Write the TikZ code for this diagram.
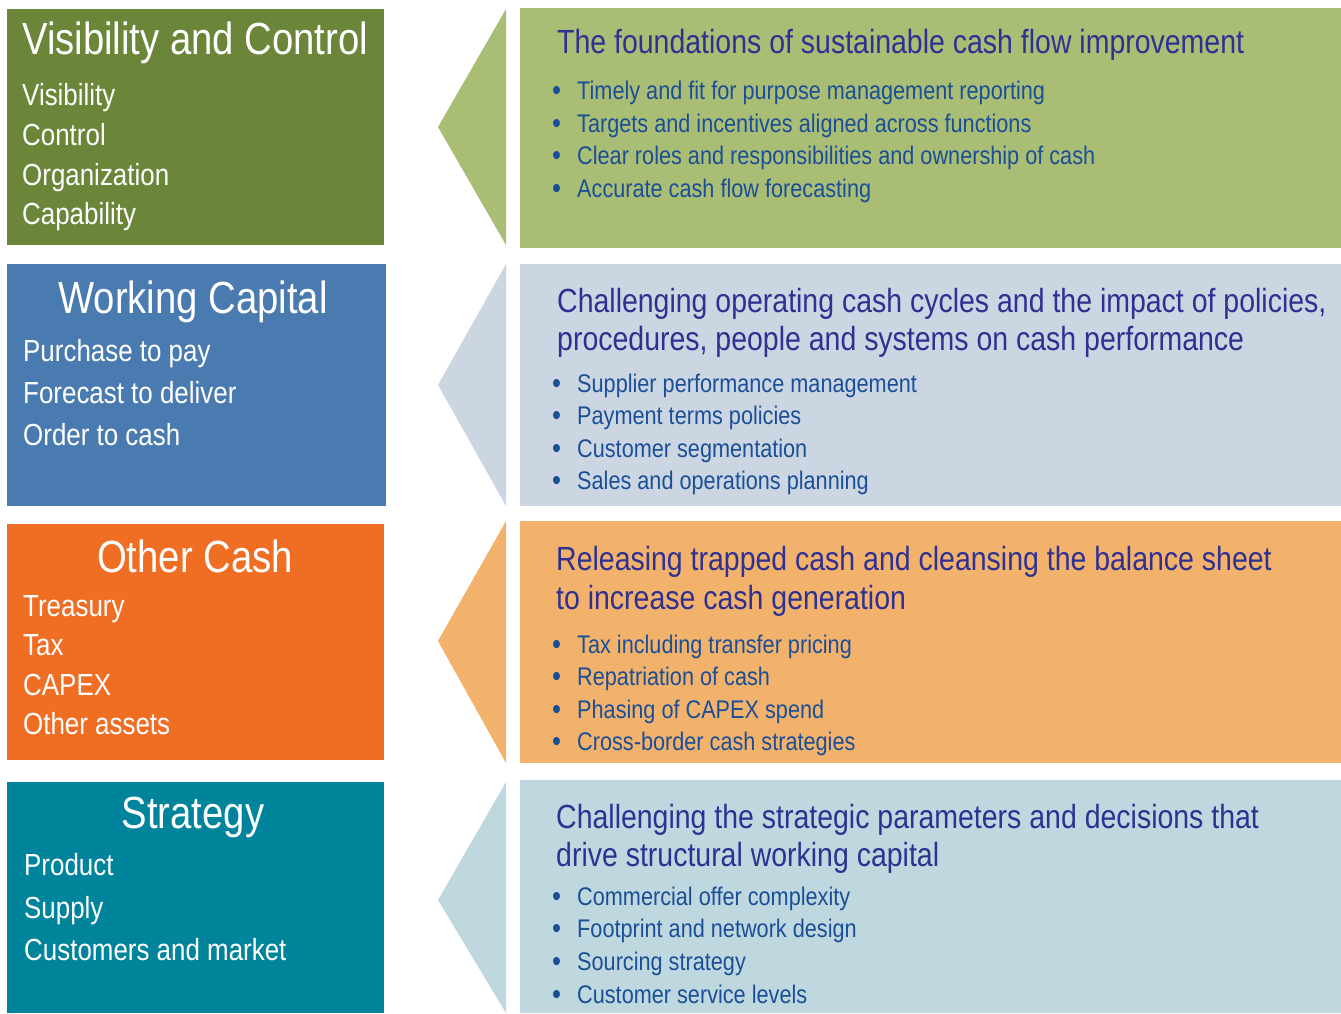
\documentclass[tikz,border=0pt]{standalone}
\usepackage{fontspec}
\setmainfont[FakeStretch=0.85]{Liberation Sans}
\usepackage{xcolor}
\usepackage{tikz}
\usetikzlibrary{positioning}
\definecolor{vcDark}{HTML}{6B8539}
\definecolor{vcLight}{HTML}{AABD75}
\definecolor{wcDark}{HTML}{4A7BB0}
\definecolor{wcLight}{HTML}{CCD6E2}
\definecolor{ocDark}{HTML}{EF6E24}
\definecolor{ocLight}{HTML}{F3B26B}
\definecolor{stDark}{HTML}{00849B}
\definecolor{stLight}{HTML}{BFD8DF}
\definecolor{headBlue}{HTML}{2E3192}
\definecolor{bulletBlue}{HTML}{1A4F97}
\newcommand{\bul}{\makebox[25pt][l]{\raisebox{-1pt}{\fontsize{30}{30}\selectfont\textbullet}}}

\begin{document}
\begin{tikzpicture}[
                x=1pt, y=-1pt,
                box/.style={
                    rectangle,
                    anchor=north west,
                    inner sep=0pt,
                    outer sep=0pt
                },
                lefttitle/.style={text=white, inner sep=0pt, font=\fontsize{45}{45}\selectfont},
                leftitem/.style={text=white, inner sep=0pt, anchor=base west, font=\fontsize{30.5}{30.5}\selectfont},
                righthead/.style={text=headBlue, inner sep=0pt, anchor=base west, font=\fontsize{33.5}{33.5}\selectfont},
                rightbullet/.style={text=bulletBlue, inner sep=0pt, anchor=base west, font=\fontsize{25.5}{25.5}\selectfont}
            ]
                \useasboundingbox (0,0) rectangle (1341,1013);

                % visibility and control
                \node[box, fill=vcDark, minimum width=377pt, minimum height=236pt] (vcLeft) at (7,9) {};
                \node[box, fill=vcLight, minimum width=821pt, minimum height=240pt] (vcRight) at (520,8) {};
                \fill[vcLight] (438,127) -- (506,9) -- (506,245) -- cycle;
                \node[lefttitle, anchor=base west] (vcTitle) at (22,54) {Visibility and Control};
                \node[leftitem] (vcA) at (22,105) {Visibility};
                \node[leftitem] (vcB) at (22,145) {Control};
                \node[leftitem] (vcC) at (22,185) {Organization};
                \node[leftitem] (vcD) at (22,224) {Capability};
                \node[righthead] (vcHead) at (557,53) {The foundations of sustainable cash flow improvement};
                \node[rightbullet] (vcP) at (552,99) {\bul Timely and fit for purpose management reporting};
                \node[rightbullet] (vcQ) at (552,132) {\bul Targets and incentives aligned across functions};
                \node[rightbullet] (vcR) at (552,164) {\bul Clear roles and responsibilities and ownership of cash};
                \node[rightbullet] (vcS) at (552,197) {\bul Accurate cash flow forecasting};

                % working capital
                \node[box, fill=wcDark, minimum width=379pt, minimum height=242pt] (wcLeft) at (7,264) {};
                \node[box, fill=wcLight, minimum width=821pt, minimum height=242pt] (wcRight) at (520,264) {};
                \fill[wcLight] (438,385) -- (506,264) -- (506,506) -- cycle;
                \node[lefttitle, anchor=base] (wcTitle) at (193,313) {Working Capital};
                \node[leftitem] (wcA) at (23,361) {Purchase to pay};
                \node[leftitem] (wcB) at (23,403) {Forecast to deliver};
                \node[leftitem] (wcC) at (23,445) {Order to cash};
                \node[righthead] (wcHeadA) at (557,312) {Challenging operating cash cycles and the impact of policies,};
                \node[righthead] (wcHeadB) at (557,350) {procedures, people and systems on cash performance};
                \node[rightbullet] (wcP) at (552,392) {\bul Supplier performance management};
                \node[rightbullet] (wcQ) at (552,424) {\bul Payment terms policies};
                \node[rightbullet] (wcR) at (552,457) {\bul Customer segmentation};
                \node[rightbullet] (wcS) at (552,489) {\bul Sales and operations planning};

                % other cash
                \node[box, fill=ocDark, minimum width=377pt, minimum height=236pt] (ocLeft) at (7,524) {};
                \node[box, fill=ocLight, minimum width=821pt, minimum height=242pt] (ocRight) at (520,521) {};
                \fill[ocLight] (438,641) -- (506,521) -- (506,763) -- cycle;
                \node[lefttitle, anchor=base] (ocTitle) at (195,572) {Other Cash};
                \node[leftitem] (ocA) at (23,616) {Treasury};
                \node[leftitem] (ocB) at (23,655) {Tax};
                \node[leftitem] (ocC) at (23,695) {CAPEX};
                \node[leftitem] (ocD) at (23,734) {Other assets};
                \node[righthead] (ocHeadA) at (556,570) {Releasing trapped cash and cleansing the balance sheet};
                \node[righthead] (ocHeadB) at (556,609) {to increase cash generation};
                \node[rightbullet] (ocP) at (552,653) {\bul Tax including transfer pricing};
                \node[rightbullet] (ocQ) at (552,685) {\bul Repatriation of cash};
                \node[rightbullet] (ocR) at (552,718) {\bul Phasing of CAPEX spend};
                \node[rightbullet] (ocS) at (552,750) {\bul Cross-border cash strategies};

                % strategy
                \node[box, fill=stDark, minimum width=377pt, minimum height=231pt] (stLeft) at (7,782) {};
                \node[box, fill=stLight, minimum width=821pt, minimum height=233pt] (stRight) at (520,780) {};
                \fill[stLight] (438,900) -- (506,782) -- (506,1013) -- cycle;
                \node[lefttitle, anchor=base] (stTitle) at (193,828) {Strategy};
                \node[leftitem] (stA) at (24,875) {Product};
                \node[leftitem] (stB) at (24,918) {Supply};
                \node[leftitem] (stC) at (24,960) {Customers and market};
                \node[righthead] (stHeadA) at (556,828) {Challenging the strategic parameters and decisions that};
                \node[righthead] (stHeadB) at (556,866) {drive structural working capital};
                \node[rightbullet] (stP) at (552,905) {\bul Commercial offer complexity};
                \node[rightbullet] (stQ) at (552,937) {\bul Footprint and network design};
                \node[rightbullet] (stR) at (552,970) {\bul Sourcing strategy};
                \node[rightbullet] (stS) at (552,1003) {\bul Customer service levels};
            \end{tikzpicture}
\end{document}
